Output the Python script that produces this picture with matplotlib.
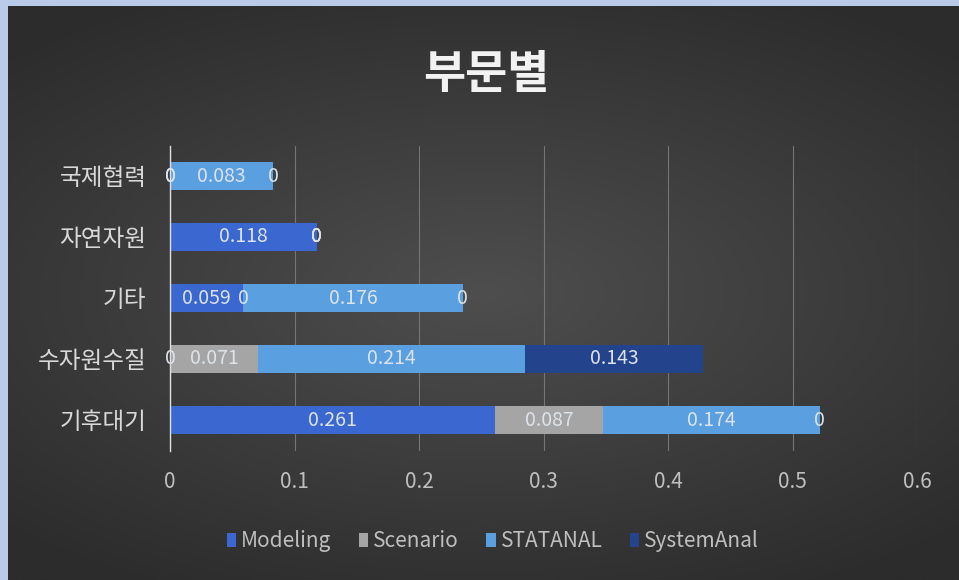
import matplotlib.pyplot as plt
from matplotlib.patches import Patch
import numpy as np

plt.rcParams['font.family'] = ['Noto Sans CJK KR', 'DejaVu Sans']

categories = ['기후대기', '수자원수질', '기타', '자연자원', '국제협력']
series = ['Modeling', 'Scenario', 'STATANAL', 'SystemAnal']
modeling = [0.261, 0, 0.059, 0.118, 0]
scenario = [0.087, 0.071, 0, 0, 0]
statanal = [0.174, 0.214, 0.176, 0, 0.083]
systemanal = [0, 0.143, 0, 0, 0]
xticks = [0, 0.1, 0.2, 0.3, 0.4, 0.5, 0.6]
colors = ['#3a68d0', '#a5a5a5', '#5a9fe0', '#23448c']

fig = plt.figure(figsize=(9.59, 5.8), dpi=100)
fig.patch.set_facecolor('#b9cbe8')

# dark background with a soft radial highlight
bg = fig.add_axes([8 / 959, 0, 951 / 959, 574 / 580])
yy, xx = np.mgrid[-1:1:300j, -1:1:500j]
r = np.sqrt((xx * 0.9) ** 2 + (yy * 1.1) ** 2)
shade = np.clip(1 - r / 1.3, 0, 1)
c0 = np.array([0x2c, 0x2c, 0x2c]) / 255
c1 = np.array([0x4e, 0x4e, 0x4e]) / 255
img = c0 + (c1 - c0) * shade[..., None]
bg.imshow(img, aspect='auto', extent=[0, 1, 0, 1])
bg.set_axis_off()

ax = fig.add_axes([170 / 959, 1 - 450.5 / 580, 747 / 959, 305 / 580])
ax.patch.set_alpha(0)

y = np.arange(len(categories))
left = np.zeros(len(categories))
for name, vals, col in zip(series, [modeling, scenario, statanal, systemanal], colors):
    vals = np.array(vals)
    bars = ax.barh(y, vals, left=left, height=0.46, color=col, label=name, zorder=3)
    labels = ['0' if v == 0 else ('%.3f' % v) for v in vals]
    ax.bar_label(bars, labels=labels, label_type='center', color='#dde3ea',
                 fontsize=14, zorder=4)
    left = left + vals

ax.set_xlim(0, 0.6)
ax.set_ylim(-0.5, len(categories) - 0.5)
ax.set_xticks(xticks)
ax.set_xticklabels(['0', '0.1', '0.2', '0.3', '0.4', '0.5', '0.6'])
ax.set_yticks(y)
ax.set_yticklabels(categories)
ax.tick_params(axis='x', colors='#bfbfbf', labelsize=15, length=0, pad=15)
ax.tick_params(axis='y', colors='#d9d9d9', labelsize=17, length=0, pad=17)
ax.grid(axis='x', color='#757575', linewidth=0.8, zorder=0)
for s in ['top', 'right', 'bottom']:
    ax.spines[s].set_visible(False)
ax.spines['left'].set_color('#e0e0e0')
ax.spines['left'].set_linewidth(1)
ax.spines['left'].set_zorder(5)

fig.text(0.507, 0.87, '부문별', ha='center', va='center', color='#f2f2f2',
         fontsize=33, fontweight='bold')

handles = [Patch(facecolor=c, label=n) for n, c in zip(series, colors)]
fig.legend(handles=handles, loc='center', bbox_to_anchor=(0.514, 0.067), ncol=4,
           frameon=False, fontsize=15, labelcolor='#bfbfbf', handlelength=0.45,
           handleheight=0.7, handletextpad=0.25, columnspacing=1.3)

fig.savefig('out.png', dpi=100, facecolor=fig.get_facecolor())
